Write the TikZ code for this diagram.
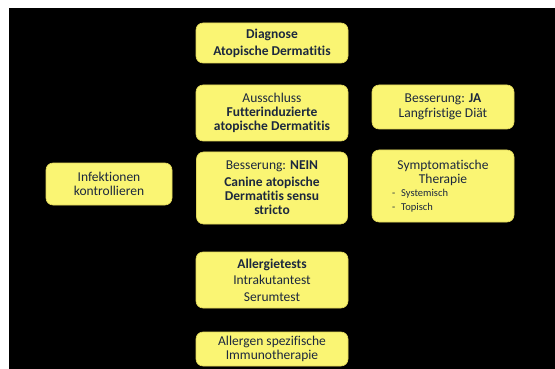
\documentclass[tikz,border=0pt]{standalone}
\usepackage{fontspec}
\setmainfont{Carlito}[Ligatures=NoCommon]
\definecolor{boxfill}{RGB}{250,245,115}
\definecolor{boxline}{RGB}{225,215,90}
\definecolor{txt}{RGB}{28,40,62}
\begin{document}
\begin{tikzpicture}[x=1pt,y=-1pt,
  box/.style={draw=boxline, line width=0.6pt, fill=boxfill, rounded corners=7pt,
    inner sep=1pt, align=center, text=txt, font=\fontsize{13.5}{14}\selectfont}]
\useasboundingbox (0,0) rectangle (555,369);
\fill[white] (0,0) rectangle (555,369);
\fill[black] (9,8) rectangle (555,369);
\node[box, minimum width=152pt, minimum height=40pt] (diag) at (272,43)
  {\textbf{Diagnose}\\[3pt]\textbf{Atopische Dermatitis}};
\node[box, minimum width=152pt, minimum height=56pt] (aus) at (272,113)
  {Ausschluss\\\textbf{Futterinduzierte}\\\textbf{atopische Dermatitis}};
\node[box, minimum width=151pt, minimum height=72pt] (nein) at (272,188)
  {Besserung: \textbf{NEIN}\\[3pt]\textbf{Canine atopische}\\\textbf{Dermatitis sensu}\\\textbf{stricto}};
\node[box, minimum width=152pt, minimum height=56pt] (allt) at (272,280)
  {\textbf{Allergietests}\\[2pt]Intrakutantest\\[3pt]Serumtest};
\node[box, minimum width=152pt, minimum height=34pt] (immu) at (272,349)
  {Allergen spezifische\\Immunotherapie};
\node[box, minimum width=142pt, minimum height=44pt] (ja) at (443,107)
  {Besserung: \textbf{JA}\\[1pt]Langfristige Diät};
\node[box, minimum width=142pt, minimum height=72pt, text width=138pt, align=left] (sym) at (443,186)
  {\centering Symptomatische\\Therapie\par\raggedright\fontsize{10.5}{13.5}\selectfont
   \hspace*{18pt}-\hspace{6pt}Systemisch\\\hspace*{18pt}-\hspace{6pt}Topisch\par};
\node[box, minimum width=126pt, minimum height=42pt] (inf) at (109,184)
  {Infektionen\\kontrollieren};
\end{tikzpicture}
\end{document}
